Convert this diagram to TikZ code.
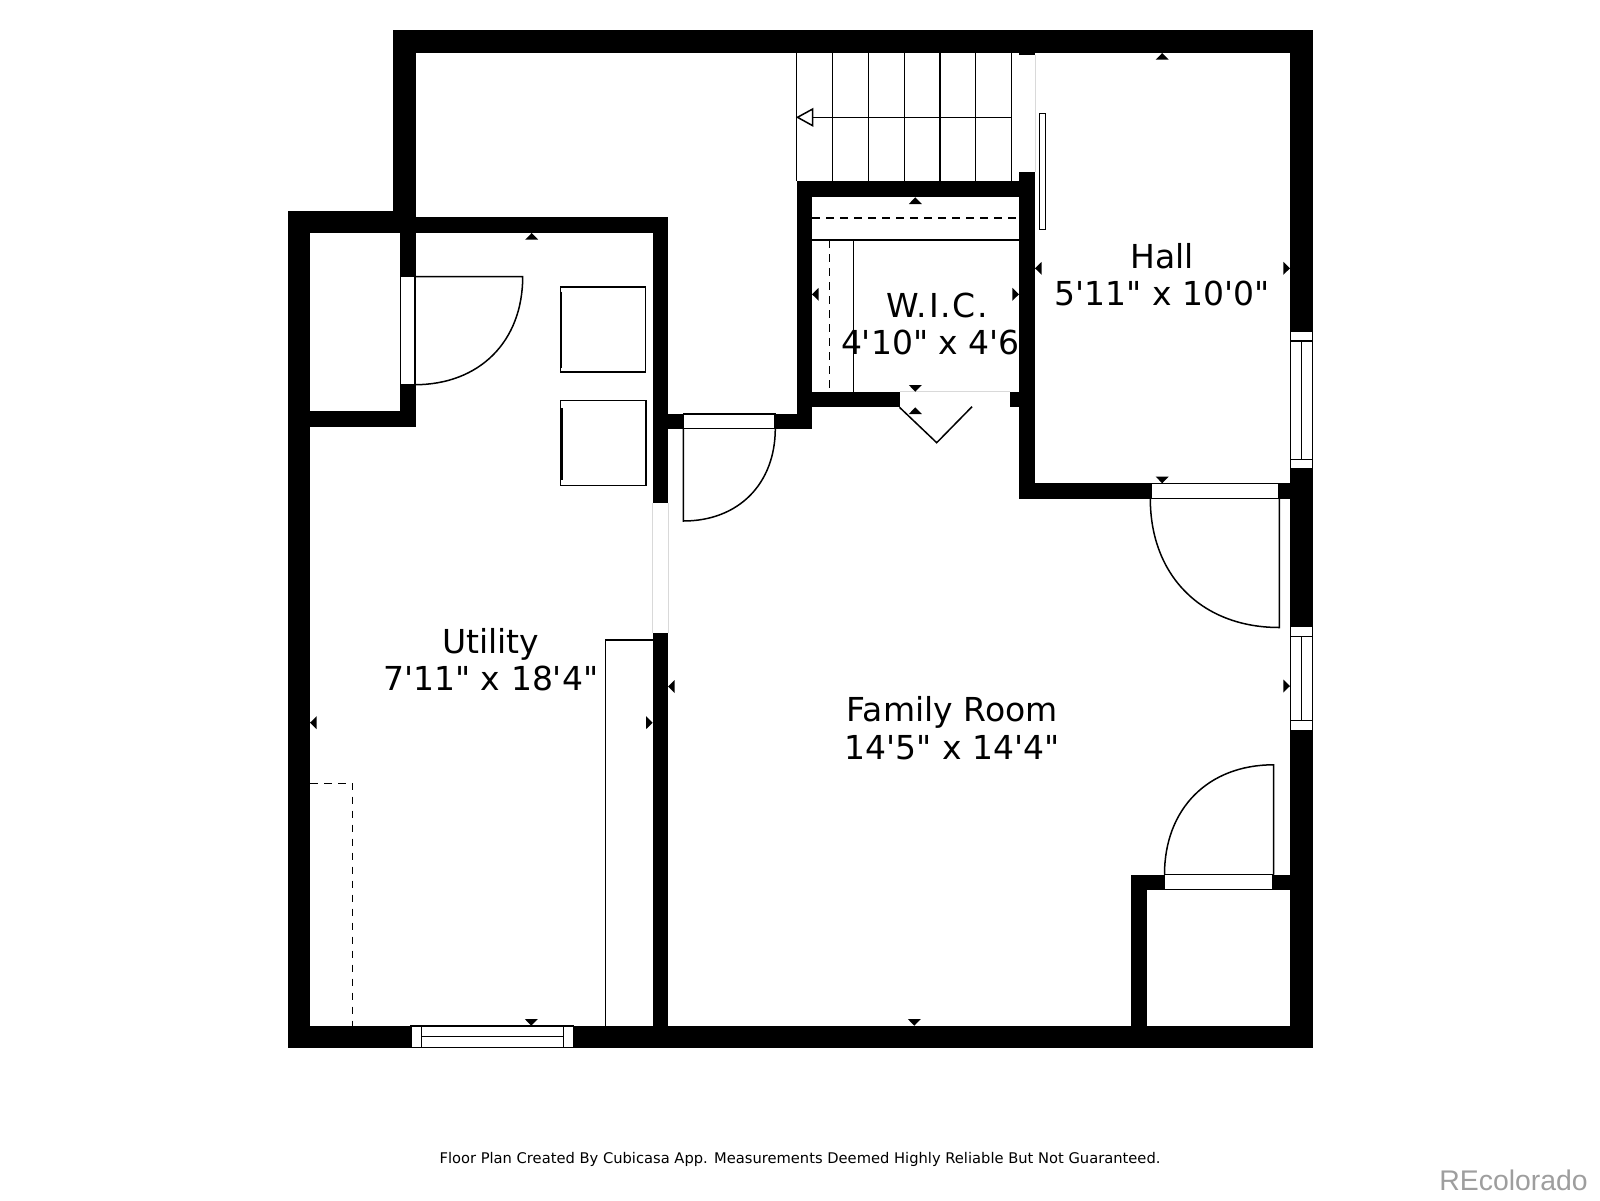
\documentclass[tikz,border=0pt]{standalone}
\usepackage{fontspec}
\newfontfamily\planfont{DejaVu Sans}
\newfontfamily\markfont{Liberation Sans}
\definecolor{markgray}{gray}{0.62}
\definecolor{gapgray}{gray}{0.85}
\newcommand{\wallup}[2]{\fill (#1,#2) -- ++(-6.5,6.7) -- ++(13,0) -- cycle;}
\newcommand{\walldown}[2]{\fill (#1,#2) -- ++(-6.5,-6.7) -- ++(13,0) -- cycle;}
\newcommand{\wallleft}[2]{\fill (#1,#2) -- ++(6.7,-6.5) -- ++(0,13) -- cycle;}
\newcommand{\wallright}[2]{\fill (#1,#2) -- ++(-6.7,-6.5) -- ++(0,13) -- cycle;}
\tikzset{
  planline/.style={line width=1.5pt},
  dashline/.style={line width=1.3pt, dash pattern=on 7.5pt off 6.5pt},
  opening/.style={planline, fill=white},
  roomlabel/.style={anchor=base, inner sep=0pt, font=\planfont\fontsize{33}{33}\selectfont}
}

\begin{document}
\begin{tikzpicture}[x=1pt,y=-1pt]
  \useasboundingbox[fill=white] (0,0) rectangle (1600,1200);

  % walls
  \fill[black] (287.5,210.7) rectangle (400,233);
  \fill[black] (393,30) rectangle (415.5,233);
  \fill[black] (393,30) rectangle (1312.7,53);
  \fill[black] (287.5,210.7) rectangle (310,1048);
  \fill[black] (287.5,1025.7) rectangle (1312.7,1048);
  \fill[black] (1290,30) rectangle (1312.7,1048);
  \fill[black] (415.5,217) rectangle (668,233);
  \fill[black] (400,233) rectangle (415.5,426.6);
  \fill[black] (310,410.7) rectangle (415.5,426.6);
  \fill[black] (652.7,217) rectangle (668,502.7);
  \fill[black] (652.7,632.7) rectangle (668,1048);
  \fill[black] (668,414) rectangle (812,428.8);
  \fill[black] (796.5,180.7) rectangle (812,428.8);
  \fill[black] (796.5,180.7) rectangle (1035,197.3);
  \fill[black] (812,391.7) rectangle (899.5,407.3);
  \fill[black] (1010,391.7) rectangle (1035,407.3);
  \fill[black] (1019,172.3) rectangle (1035,499);
  \fill[black] (1019,483.4) rectangle (1290,499);
  \fill[black] (1019,30) rectangle (1035,55);
  \fill[black] (1131,874.5) rectangle (1146.7,1048);
  \fill[black] (1131,874.5) rectangle (1290,889.6);

  % open gaps
  \draw[gapgray,line width=0.6pt] (652.7,502.7) -- (652.7,632.7) (668,502.7) -- (668,632.7);
  \draw[gapgray,line width=0.6pt] (1035,55) -- (1035,172.3);
  \draw[gapgray,line width=0.6pt] (899.5,391.7) -- (1010,391.7);

  % stairs
  \foreach \stairx in {796.5,832.7,868.5,904.3,940,975.6,1011.4}
    \draw[planline] (\stairx,53) -- (\stairx,180.7);
  \draw[planline] (796.5,117.3) -- (1011.4,117.3);
  \draw[planline,fill=white] (797.5,117.3) -- (812.7,109) -- (812.7,125.7) -- cycle;

  % doors
  \draw[opening] (400.7,276.7) rectangle (414.7,384.5);
  \draw[planline] (414.7,276.7) -- (522.7,276.7) .. controls (522.7,341.5) and (479.5,384.7) .. (414.7,384.7);
  \draw[opening] (683.3,414) rectangle (775,428.3);
  \draw[planline] (683.3,428.3) -- (683.3,521) .. controls (738.5,521) and (775.3,483.9) .. (775.3,428.3);
  \draw[opening] (1151,483.4) rectangle (1279,498.7);
  \draw[planline] (1279.3,498.7) -- (1279.3,627.5) .. controls (1201.9,627.5) and (1150.3,576) .. (1150.3,498.7);
  \draw[opening] (1164.7,874.5) rectangle (1273,889.6);
  \draw[planline] (1273.5,874.5) -- (1273.5,764.8) .. controls (1208.1,764.8) and (1164.5,808.7) .. (1164.5,874.5);
  \draw[planline] (899.5,407.3) -- (936.7,442.7) -- (972,406.7);
  \draw[opening] (1039.3,113.3) rectangle (1045.5,229.3);

  % windows
  \draw[opening] (1290.5,331.7) rectangle (1312.4,469);
  \draw[planline] (1290.5,341) -- (1312.4,341) (1290.5,459.3) -- (1312.4,459.3) (1301.7,341) -- (1301.7,459.3);
  \draw[opening] (1290.5,626) rectangle (1312.4,730.3);
  \draw[planline] (1290.5,636.5) -- (1312.4,636.5) (1290.5,720.4) -- (1312.4,720.4) (1301.7,636.5) -- (1301.7,720.4);
  \draw[opening] (411,1026) rectangle (573.3,1047.7);
  \draw[planline] (421.3,1026) -- (421.3,1047.7) (563.3,1026) -- (563.3,1047.7) (421.3,1036.7) -- (563.3,1036.7);

  % fixtures
  \draw[planline] (560.3,287) rectangle (645.7,372);
  \draw[planline] (560.7,400.3) rectangle (646,485.7);
  \draw[line width=2pt] (561,291.7) -- (561,368);
  \draw[line width=3pt] (561,408) -- (561,480);
  \draw[planline] (605.3,1025.7) -- (605.3,640) -- (652.7,640);
  \draw[dashline] (310,783.3) -- (352.7,783.3) -- (352.7,1025.7);
  \draw[dashline] (812,218) -- (1019,218);
  \draw[planline] (812,240) -- (1019,240);
  \draw[planline] (853.3,240) -- (853.3,391.7);
  \draw[dashline] (829.2,240) -- (829.2,391.7);

  % dimension marks
  \wallup{531.7}{233}
  \walldown{531.3}{1025.7}
  \wallleft{310}{722.7}
  \wallright{652.7}{722.7}
  \wallleft{668}{686.5}
  \wallright{1290}{686}
  \walldown{914.3}{1025.7}
  \wallup{915.3}{407.3}
  \walldown{915.3}{391.7}
  \wallup{915.3}{197.3}
  \wallleft{812}{294.3}
  \wallright{1019}{294.3}
  \wallup{1162.2}{53}
  \walldown{1162.2}{483.3}
  \wallleft{1035}{268.3}
  \wallright{1290}{268.3}

  % labels
  \node[roomlabel] (hallname) at (1162.4,268.3) {Hall};
  \node[roomlabel] (hallsize) at (1162.4,305) {5'11" x 10'0"};
  \node[roomlabel] (wicname) at (937.2,317.7) {\addfontfeature{LetterSpace=5.5}W.I.C.};
  \node[roomlabel] (wicsize) at (930.4,354.3) {4'10" x 4'6};
  \node[roomlabel] (utilityname) at (490.8,653.3) {Utility};
  \node[roomlabel] (utilitysize) at (490.8,690.7) {7'11" x 18'4"};
  \node[roomlabel] (familyname) at (952.3,721.7) {Family Room};
  \node[roomlabel] (familysize) at (952.3,759) {14'5" x 14'4"};
  \node[anchor=base,inner sep=0pt,font=\planfont\fontsize{14.7}{14.7}\selectfont] (disclaimer) at (800,1163) {Floor Plan Created By Cubicasa App. Measurements Deemed Highly Reliable But Not Guaranteed.};
  \node[anchor=base east,inner sep=0pt,text=markgray,font=\markfont\fontsize{28.4}{28.4}\selectfont] (watermark) at (1588,1190.7) {REcolorado};
\end{tikzpicture}
\end{document}
